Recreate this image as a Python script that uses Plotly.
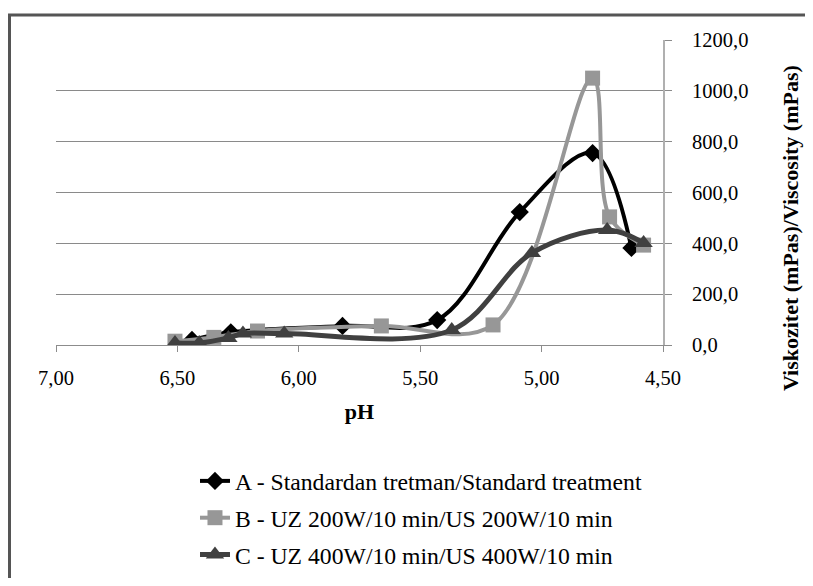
import plotly.graph_objects as go

# Data (pH, viscosity mPas)
ph_a = [6.44, 6.28, 5.82, 5.43, 5.09, 4.79, 4.63]
visc_a = [20, 50, 75, 98, 523, 755, 382]

ph_b = [6.51, 6.35, 6.17, 5.66, 5.20, 4.79, 4.72, 4.58]
visc_b = [15, 30, 55, 75, 79, 1050, 504, 393]

ph_c = [6.51, 6.41, 6.29, 6.23, 6.06, 5.37, 5.04, 4.73, 4.58]
visc_c = [8, 8, 28, 45, 45, 59, 362, 452, 401]

names = ["A - Standardan tretman/Standard treatment",
         "B - UZ 200W/10 min/US 200W/10 min",
         "C - UZ 400W/10 min/US 400W/10 min"]

x_ticks = [7.0, 6.5, 6.0, 5.5, 5.0, 4.5]
y_ticks = [0, 200, 400, 600, 800, 1000, 1200]

FONT = "Liberation Serif"

fig = go.Figure()
fig.add_trace(go.Scatter(x=ph_a, y=visc_a, name=names[0], mode="lines+markers",
                         line=dict(color="#000000", width=4, shape="spline", smoothing=1),
                         marker=dict(symbol="diamond", size=14, color="#000000"),
                         legendgroup="a"))
fig.add_trace(go.Scatter(x=ph_b, y=visc_b, name=names[1], mode="lines+markers",
                         line=dict(color="#979797", width=4, shape="spline", smoothing=1),
                         marker=dict(symbol="square", size=15, color="#979797"),
                         legendgroup="b"))
fig.add_trace(go.Scatter(x=ph_c, y=visc_c, name=names[2], mode="lines+markers",
                         line=dict(color="#404040", width=5, shape="spline", smoothing=1),
                         marker=dict(symbol="triangle-up", size=16, color="#404040"),
                         legendgroup="c"))

# The page body has an 8px default margin, so the figure is sized 16px smaller
fig.update_layout(
    width=797, height=570,
    margin=dict(l=48, r=142, t=32, b=233, autoexpand=False),
    paper_bgcolor="white", plot_bgcolor="white",
    separators=", ",
    font=dict(family=FONT, size=22, color="#000000"),
    showlegend=True,
    legend=dict(x=0.2346, y=0.2088, xref="container", yref="container",
                xanchor="left", yanchor="top",
                orientation="v", tracegroupgap=3,
                font=dict(family=FONT, size=23.7, color="#000000"),
                bgcolor="rgba(0,0,0,0)"),
    xaxis=dict(range=[7.0, 4.5], tickvals=x_ticks, tickformat=".2f",
               automargin=False,
               showgrid=False, zeroline=False,
               showline=True, linecolor="#8c8c8c", linewidth=1,
               ticks="outside", ticklen=6, tickcolor="#8c8c8c",
               ticklabelstandoff=8,
               tickfont=dict(family=FONT, size=20.5),
               title=dict(text="<b>pH</b>", font=dict(family=FONT, size=22), standoff=16)),
    yaxis=dict(range=[0, 1200], tickvals=y_ticks, tickformat=".1f", side="right",
               automargin=False,
               showgrid=True, gridcolor="#8a8a8a", gridwidth=1,
               zeroline=False, showline=True, linecolor="#b0b0b0", linewidth=2,
               ticks="outside", ticklen=7, tickcolor="#8a8a8a",
               ticklabelstandoff=16,
               tickfont=dict(family=FONT, size=20.5)),
    annotations=[dict(text="<b>Viskozitet (mPas)/Viscosity (mPas)</b>",
                      xref="paper", yref="paper",
                      x=(790 - 56) / 607, y=(345 - 228) / 305,
                      xanchor="center", yanchor="middle", textangle=-90,
                      showarrow=False, font=dict(family=FONT, size=22))],
    shapes=[dict(type="rect", xref="paper", yref="paper",
                 x0=(9.5 - 56) / 607, x1=1.5, y0=-1.2, y1=(345 - 15) / 305,
                 line=dict(color="#555555", width=3), fillcolor="rgba(0,0,0,0)",
                 layer="below")],
)

fig.write_html("out.html")
